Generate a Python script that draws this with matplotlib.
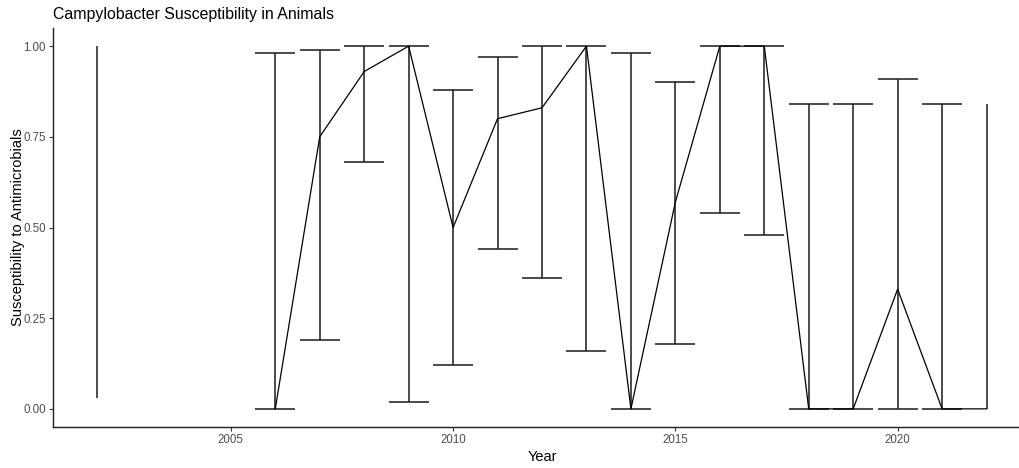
import numpy as np
import matplotlib.pyplot as plt

plt.rcParams["font.family"] = ["Liberation Sans", "DejaVu Sans"]

years = [2002, 2006, 2007, 2008, 2009, 2010, 2011, 2012, 2013, 2014,
         2015, 2016, 2017, 2018, 2019, 2020, 2021, 2022]
mean = [np.nan, 0.00, 0.75, 0.93, 1.00, 0.50, 0.80, 0.83, 1.00, 0.00,
        0.57, 1.00, 1.00, 0.00, 0.00, 0.33, 0.00, 0.00]
lower = [0.03, 0.00, 0.19, 0.68, 0.02, 0.12, 0.44, 0.36, 0.16, 0.00,
         0.18, 0.54, 0.48, 0.00, 0.00, 0.00, 0.00, 0.00]
upper = [1.00, 0.98, 0.99, 1.00, 1.00, 0.88, 0.97, 1.00, 1.00, 0.98,
         0.90, 1.00, 1.00, 0.84, 0.84, 0.91, 0.84, 0.84]
# years where the interval is drawn without end caps
no_cap = [2002, 2022]

fig = plt.figure(figsize=(10.19, 4.68), dpi=100)
# panel runs slightly past the right edge of the figure
ax = fig.add_axes([53 / 1019, 41 / 468, 978 / 1019, 399 / 468])

ax.vlines(years, lower, upper, color="#1a1a1a", lw=1.1)
cap_x = np.array([y for y in years if y not in no_cap])
cap_lo = [l for y, l in zip(years, lower) if y not in no_cap]
cap_hi = [u for y, u in zip(years, upper) if y not in no_cap]
w = 0.45
ax.hlines(cap_lo, cap_x - w, cap_x + w, color="#1a1a1a", lw=1.1)
ax.hlines(cap_hi, cap_x - w, cap_x + w, color="#1a1a1a", lw=1.1)
ax.plot(years, mean, color="black", lw=0.9)

ax.set_xlim(2001, 2023)
ax.set_ylim(-0.05, 1.05)
ax.set_xticks([2005, 2010, 2015, 2020])
ax.set_yticks([0, 0.25, 0.5, 0.75, 1.0])
ax.set_yticklabels(["0.00", "0.25", "0.50", "0.75", "1.00"])
ax.tick_params(labelsize=8.3, labelcolor="#4d4d4d", color="#333333", length=3, width=0.8, pad=2)

for s in ["top", "right"]:
    ax.spines[s].set_visible(False)
for s in ["left", "bottom"]:
    ax.spines[s].set_linewidth(1.0)
    ax.spines[s].set_color("#222222")

ax.set_xlabel("Year", fontsize=10.5, labelpad=3)
ax.set_ylabel("Susceptibility to Antimicrobials", fontsize=10.5, labelpad=-1)
fig.text(53 / 1019, 1 - 14 / 468, "Campylobacter Susceptibility in Animals",
         fontsize=11.4, va="center", ha="left")

fig.savefig("out.png", dpi=100)
